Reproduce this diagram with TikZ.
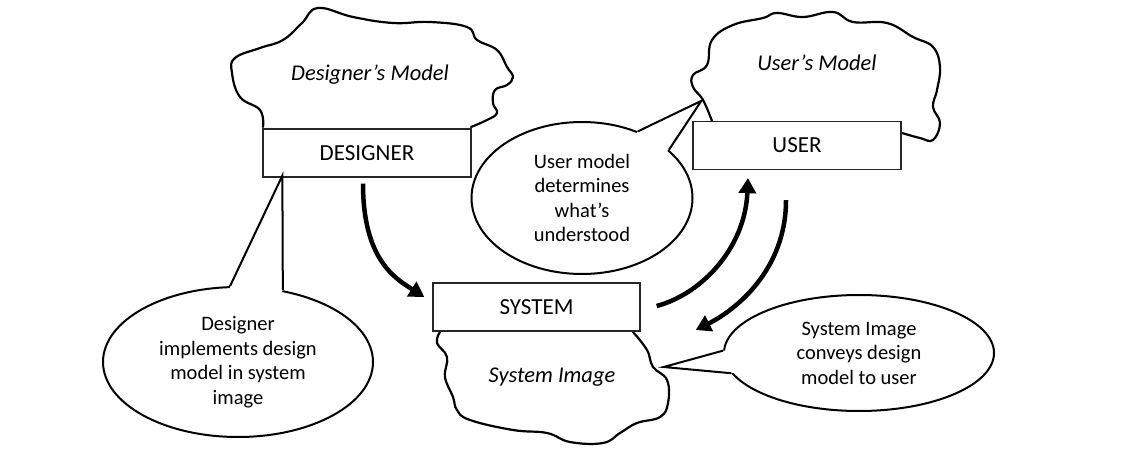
\documentclass[tikz,border=0pt]{standalone}
\usepackage{fontspec}
\setmainfont{Carlito}
\usetikzlibrary{arrows.meta,shapes.geometric,calc}

\begin{document}
\begin{tikzpicture}[x=1pt,y=-1pt,
    box/.style={draw=black!85,line width=1.3pt,fill=white,minimum width=208pt,minimum height=48pt,inner sep=0pt,font=\fontsize{23}{27}\selectfont},
    cloudline/.style={line width=2.2pt,line join=round,line cap=round},
    callout/.style={ellipse,draw,line width=2pt,fill=white,inner sep=0pt,align=center,font=\fontsize{20.5}{24.5}\selectfont},
    tail/.style={line width=2pt,line join=miter},
    flow/.style={line width=4.5pt,-{Triangle[length=15pt,width=17pt]}},
    modeltxt/.style={font=\fontsize{22.5}{26}\selectfont\itshape}]
    \useasboundingbox (0,0) rectangle (1128,449);
    % clouds
    \draw[cloudline] plot[smooth,tension=0.7] coordinates {(263,127) (260,110) (240,97) (232,73) (235,58) (260,48) (283,40) (302,23) (318,8) (353,17) (393,23) (430,22) (467,27) (477,40) (497,50) (507,67) (513,77) (507,85) (495,90) (493,103) (497,113) (487,120) (471,127)};
    \draw[cloudline] plot[smooth,tension=0.7] coordinates {(712,121) (703,100) (693,87) (693,75) (707,65) (712,40) (733,25) (763,18) (777,13) (803,17) (833,12) (853,22) (887,23) (913,37) (933,47) (940,67) (937,90) (933,107) (940,123) (933,140) (920,138) (902,133)};
    \draw[cloudline] plot[smooth,tension=0.7] coordinates {(440,332) (437,343) (447,357) (445,377) (453,397) (457,410) (470,420) (513,430) (547,433) (570,442) (603,443) (620,433) (637,423) (660,417) (668,403) (667,380) (653,367) (647,350) (633,332)};
    \node[modeltxt] (dmodel) at (370,75) {Designer’s Model};
    \node[modeltxt] (umodel) at (817,63) {User’s Model};
    \node[modeltxt] (simage) at (552,377) {System Image};
    % boxes
    \node[box] (designer) at (367,153) {DESIGNER};
    \node[box] (user) at (797,145.5) {USER};
    \node[box,minimum width=207pt] (system) at (536.5,307) {SYSTEM};
    % callouts
    \node[callout,minimum width=270pt,minimum height=150pt] (callD) at (238,362) {Designer\\implements design\\model in system\\image};
    \coordinate (tipD) at ([xshift=20pt,yshift=2pt]designer.south west);
    \fill[white] (callD.96) -- (tipD) -- (callD.58) -- ($(callD.center)!0.88!(callD.58)$) -- ($(callD.center)!0.88!(callD.96)$) -- cycle;
    \draw[tail] (callD.96) -- (tipD) -- (callD.58);
    \node[callout,minimum width=221pt,minimum height=152pt] (callU) at (582,198) {User model\\determines\\what’s\\understood};
    \coordinate (tipU) at ([xshift=9pt,yshift=20pt]user.north west);
    \fill[white] (callU.50) -- (tipU) -- (callU.29) -- ($(callU.center)!0.88!(callU.29)$) -- ($(callU.center)!0.88!(callU.50)$) -- cycle;
    \draw[tail] (callU.50) -- (tipU) -- (callU.29);
    \node[callout,minimum width=270pt,minimum height=116pt] (callS) at (859,353) {System Image\\conveys design\\model to user};
    \coordinate (tipS) at ([xshift=23pt,yshift=-60pt]system.east);
    \fill[white] (callS.179) -- (tipS) -- (callS.189) -- ($(callS.center)!0.9!(callS.189)$) -- ($(callS.center)!0.9!(callS.179)$) -- cycle;
    \draw[tail] (callS.179) -- (tipS) -- (callS.189);
    % arrows
    \draw[flow] ([xshift=-4pt,yshift=-6pt]designer.south) .. controls +(0,75) and +(-30,-19) .. ([xshift=-8pt,yshift=10pt]system.west);
    \draw[flow] ([xshift=16pt,yshift=1pt]system.east) .. controls +(45,-12) and +(-3,70) .. ([xshift=-49pt,yshift=-8pt]user.south);
    \draw[flow] ([xshift=-11pt,yshift=-30pt]user.south) .. controls +(0,70) and +(40,-20) .. ([xshift=55pt,yshift=-23pt]system.east);
\end{tikzpicture}
\end{document}
